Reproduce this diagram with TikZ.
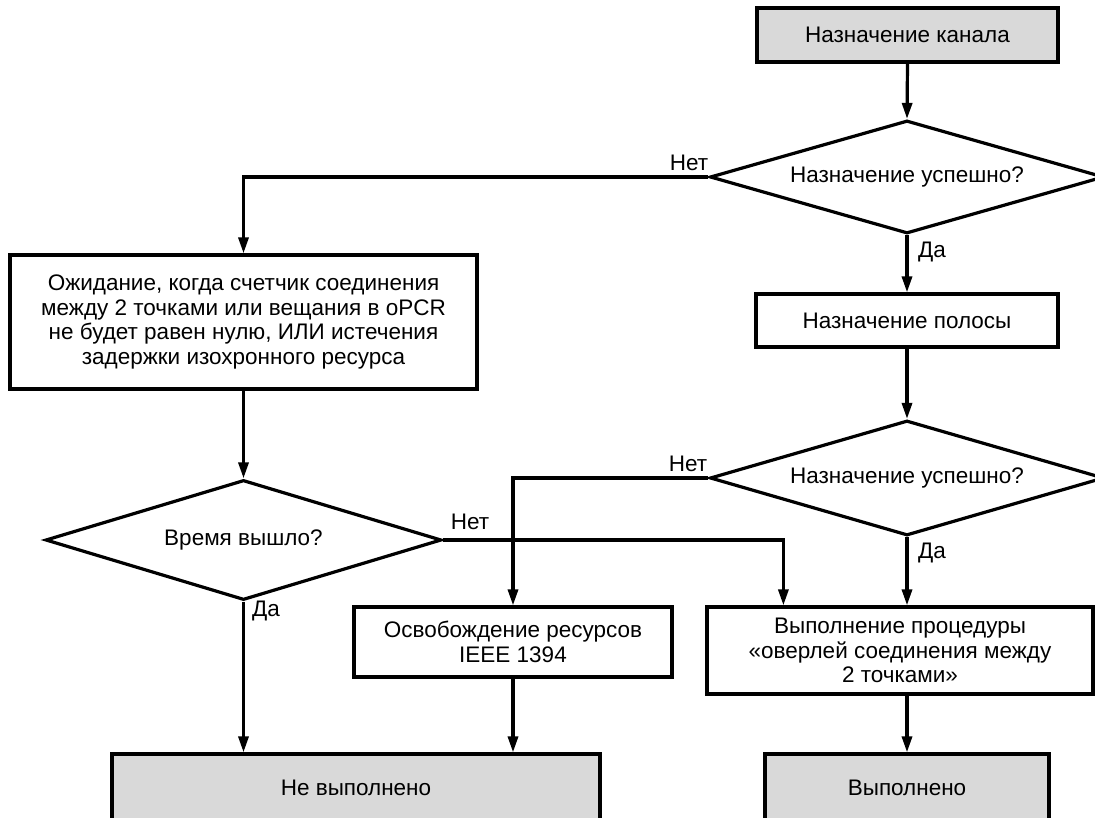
\documentclass[tikz,border=0pt]{standalone}
\usepackage{fontspec}
\setmainfont{Liberation Sans}
\usetikzlibrary{arrows.meta,shapes.geometric,calc}
\definecolor{boxgray}{HTML}{D9D9D9}
\begin{document}
\begin{tikzpicture}[x=1pt,y=-1pt,
  every node/.style={font=\fontsize{22.5}{24.5}\selectfont},
  proc/.style={draw=black,line width=3.2pt,rectangle,inner sep=0pt,align=center},
  term/.style={proc,fill=boxgray},
  dec/.style={draw=black,line width=3.2pt,diamond,aspect=3.4,inner sep=0pt,align=center},
  conn/.style={line width=3.2pt,-{Triangle[length=16pt,width=10pt]}},
  lbl/.style={inner sep=0pt}]
\clip (0,0) rectangle (1095,818);
\fill[white] (0,0) rectangle (1095,818);

\node[term,minimum width=301pt,minimum height=54pt] (n1) at (907.5,35) {Назначение канала};
\node[dec,minimum width=394pt,minimum height=113pt] (d1) at (907,177) {Назначение успешно?};
\node[proc,minimum width=302pt,minimum height=53pt] (n2) at (907,320.5) {Назначение полосы};
\node[dec,minimum width=394pt,minimum height=115pt] (d3) at (907,478) {Назначение успешно?};
\node[proc,minimum width=386pt,minimum height=87pt] (n3) at (900,650.5) {Выполнение процедуры\\«оверлей соединения между\\2 точками»};
\node[proc,minimum width=318pt,minimum height=70pt] (n4) at (513,642) {Освобождение ресурсов\\IEEE 1394};
\node[proc,minimum width=467pt,minimum height=134pt] (nw) at (243.5,322) {Ожидание, когда счетчик соединения\\между 2 точками или вещания в oPCR\\не будет равен нулю, ИЛИ истечения\\задержки изохронного ресурса};
\node[dec,minimum width=396pt,minimum height=120pt] (d2) at (243.5,540) {Время вышло?};
\node[term,minimum width=488pt,minimum height=68pt] (nf) at (356,788) {Не выполнено};
\node[term,minimum width=284pt,minimum height=68pt] (ns) at (907,788) {Выполнено};

\node[lbl] (l1) at (689,163) {Нет};
\node[lbl] (l2) at (932,252) {Да};
\node[lbl] (l3) at (688,464) {Нет};
\node[lbl] (l4) at (932,553) {Да};
\node[lbl] (l5) at (470,522) {Нет};
\node[lbl] (l6) at (266,611) {Да};

\draw[conn] (n1.south) -- (d1.north);
\draw[conn] (d1.west) -| (nw.north);
\draw[conn] (d1.south) -- (n2.north);
\draw[conn] (n2.south) -- (d3.north);
\draw[conn] (d3.west) -| (n4.north);
\draw[conn] (d3.south) -- (d3.south |- n3.north);
\draw[conn] (nw.south) -- (d2.north);
\draw[conn] (d2.east) -| ([xshift=78pt]n3.north west);
\draw[conn] (d2.south) -- (d2.south |- nf.north);
\draw[conn] (n4.south) -- (n4.south |- nf.north);
\draw[conn] (d3.south |- n3.south) -- (d3.south |- ns.north);
\end{tikzpicture}
\end{document}
